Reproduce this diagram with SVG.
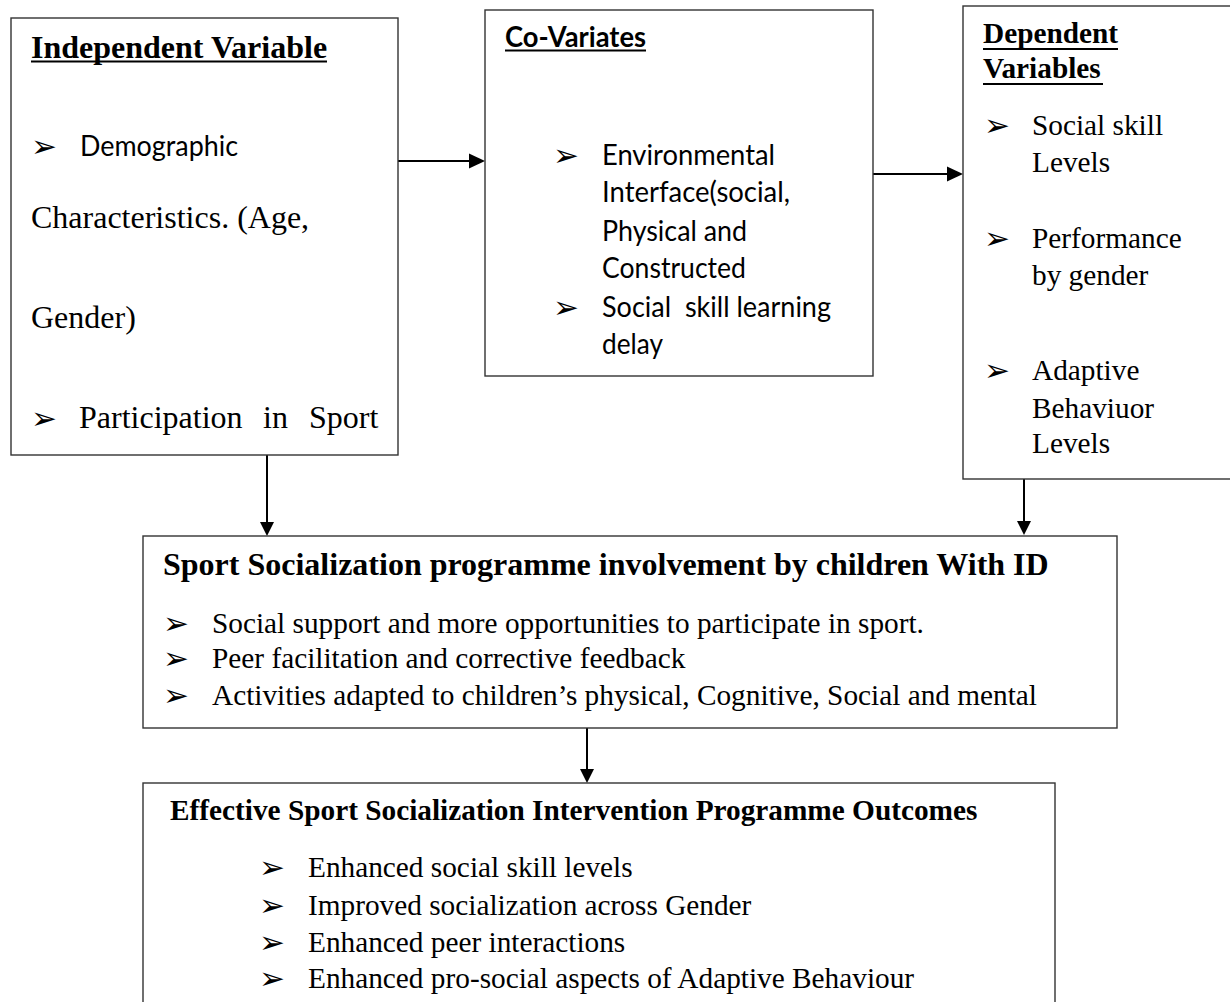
<svg xmlns="http://www.w3.org/2000/svg" width="1230" height="1002" viewBox="0 0 1230 1002">
<style>
.box{fill:#fff;stroke:#333;stroke-width:1.4}
.serif{font-family:"Liberation Serif","Times New Roman",serif;fill:#000}
.sans{font-family:Lato,"Liberation Sans",sans-serif;fill:#000}
.b{font-weight:bold}
.s32{font-size:32px}
.s29{font-size:29.3px}
.bul{font-family:"DejaVu Sans",sans-serif;font-size:31px;fill:#000}
.ul{stroke:#000;stroke-width:2}
.conn{stroke:#000;stroke-width:2;fill:none}
.head{fill:#000}
</style>
<rect width="1230" height="1002" fill="#fff"/>

<g id="connectors">
  <line class="conn" x1="396" y1="161" x2="472" y2="161"/>
  <polygon class="head" points="485,161 469,153.5 469,168.5"/>
  <line class="conn" x1="873" y1="174" x2="950" y2="174"/>
  <polygon class="head" points="963,174 947,166.5 947,181.5"/>
  <line class="conn" x1="267" y1="455" x2="267" y2="524"/>
  <polygon class="head" points="267,536 260,522 274,522"/>
  <line class="conn" x1="1024" y1="479" x2="1024" y2="523"/>
  <polygon class="head" points="1024,535 1017,521 1031,521"/>
  <line class="conn" x1="587" y1="728" x2="587" y2="771"/>
  <polygon class="head" points="587,783 580,769 594,769"/>
</g>

<g id="independent-variable">
  <rect class="box" x="11" y="18" width="387" height="437"/>
  <text class="serif b s32" x="31" y="58">Independent Variable</text>
  <line class="ul" x1="31" y1="61.5" x2="327" y2="61.5"/>
  <text class="bul" x="31" y="157">➢</text>
  <text class="sans s29" x="80" y="156" textLength="158" lengthAdjust="spacingAndGlyphs">Demographic</text>
  <text class="serif s32" x="31" y="228">Characteristics. (Age,</text>
  <text class="serif s32" x="31" y="328">Gender)</text>
  <text class="bul" x="31" y="429">➢</text>
  <text class="serif s32" x="79" y="428">Participation</text>
  <text class="serif s32" x="263" y="428">in</text>
  <text class="serif s32" x="309" y="428">Sport</text>
</g>

<g id="co-variates">
  <rect class="box" x="485" y="10" width="388" height="366"/>
  <text class="sans b s29" x="505" y="47" textLength="141" lengthAdjust="spacingAndGlyphs">Co-Variates</text>
  <line class="ul" x1="505" y1="50.5" x2="646" y2="50.5"/>
  <text class="bul" x="553" y="166">➢</text>
  <text class="sans s29" x="602" y="165" textLength="173" lengthAdjust="spacingAndGlyphs">Environmental</text>
  <text class="sans s29" x="602" y="202" textLength="188" lengthAdjust="spacingAndGlyphs">Interface(social,</text>
  <text class="sans s29" x="602" y="241" textLength="145" lengthAdjust="spacingAndGlyphs">Physical and</text>
  <text class="sans s29" x="602" y="278" textLength="144" lengthAdjust="spacingAndGlyphs">Constructed</text>
  <text class="bul" x="553" y="318">➢</text>
  <text class="sans s29" x="602" y="317" textLength="229" lengthAdjust="spacingAndGlyphs" xml:space="preserve">Social  skill learning</text>
  <text class="sans s29" x="602" y="354" textLength="61" lengthAdjust="spacingAndGlyphs">delay</text>
</g>

<g id="dependent-variables">
  <rect class="box" x="963" y="6" width="300" height="473"/>
  <text class="serif b s29" x="983" y="43">Dependent</text>
  <line class="ul" x1="983" y1="49" x2="1118" y2="49"/>
  <text class="serif b s29" x="983" y="78">Variables</text>
  <line class="ul" x1="983" y1="84" x2="1103" y2="84"/>
  <text class="bul" x="984" y="136">➢</text>
  <text class="serif s29" x="1032" y="135">Social skill</text>
  <text class="serif s29" x="1032" y="172">Levels</text>
  <text class="bul" x="984" y="249">➢</text>
  <text class="serif s29" x="1032" y="248">Performance</text>
  <text class="serif s29" x="1032" y="285">by gender</text>
  <text class="bul" x="984" y="381">➢</text>
  <text class="serif s29" x="1032" y="380">Adaptive</text>
  <text class="serif s29" x="1032" y="418">Behaviuor</text>
  <text class="serif s29" x="1032" y="453">Levels</text>
</g>

<g id="programme-involvement">
  <rect class="box" x="143" y="536" width="974" height="192"/>
  <text class="serif b s32" x="163" y="575">Sport Socialization programme involvement by children With ID</text>
  <text class="bul" x="163" y="634">➢</text>
  <text class="serif s29" x="212" y="633">Social support and more opportunities to participate in sport.</text>
  <text class="bul" x="163" y="669">➢</text>
  <text class="serif s29" x="212" y="668">Peer facilitation and corrective feedback</text>
  <text class="bul" x="163" y="706">➢</text>
  <text class="serif s29" x="212" y="705">Activities adapted to children’s physical, Cognitive, Social and mental</text>
</g>

<g id="programme-outcomes">
  <rect class="box" x="143" y="783" width="912" height="260"/>
  <text class="serif b s29" x="170" y="820">Effective Sport Socialization Intervention Programme Outcomes</text>
  <text class="bul" x="259" y="878">➢</text>
  <text class="serif s29" x="308" y="877">Enhanced social skill levels</text>
  <text class="bul" x="259" y="916">➢</text>
  <text class="serif s29" x="308" y="915">Improved socialization across Gender</text>
  <text class="bul" x="259" y="953">➢</text>
  <text class="serif s29" x="308" y="952">Enhanced peer interactions</text>
  <text class="bul" x="259" y="989">➢</text>
  <text class="serif s29" x="308" y="988">Enhanced pro-social aspects of Adaptive Behaviour</text>
</g>
</svg>
